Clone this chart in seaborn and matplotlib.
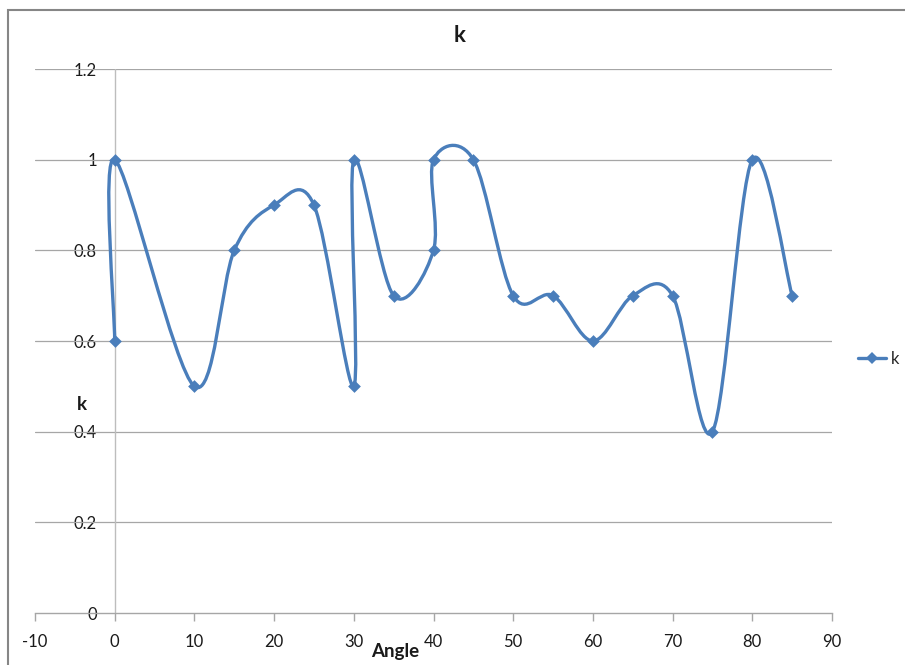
import numpy as np
import pandas as pd
import matplotlib
matplotlib.use("Agg")
import matplotlib.pyplot as plt
import seaborn as sns
from matplotlib.path import Path
from matplotlib.patches import PathPatch, Rectangle
from matplotlib.lines import Line2D

# ---- data ----
angle = [0, 0, 10, 15, 20, 25, 30, 30, 35, 40, 40, 45, 50, 55, 60, 65, 70, 75, 80, 85]
k_val = [0.6, 1.0, 0.5, 0.8, 0.9, 0.9, 0.5, 1.0, 0.7, 0.8, 1.0, 1.0, 0.7, 0.7, 0.6, 0.7, 0.7, 0.4, 1.0, 0.7]
x_ticks = [-10, 0, 10, 20, 30, 40, 50, 60, 70, 80, 90]
y_ticks = [0, 0.2, 0.4, 0.6, 0.8, 1.0, 1.2]
y_tick_labels = ["0", "0.2", "0.4", "0.6", "0.8", "1", "1.2"]
title = "k"
series_name = "k"
x_label = "Angle"
y_label = "k"

df = pd.DataFrame({"Angle": angle, "k": k_val})

sns.set_theme(style="white")
plt.rcParams["font.family"] = ["Lato", "DejaVu Sans"]

W, H = 905, 665
fig = plt.figure(figsize=(W / 100, H / 100), dpi=100)
fig.patch.set_facecolor("white")

# chart-area border
fig.add_artist(Rectangle((8 / W, -0.1), 1.2, 1.1 - 10 / H, transform=fig.transFigure,
                         fill=False, edgecolor="#868686", linewidth=1.5))

left, right, bottom, top = 35, 832, 613, 69
ax = fig.add_axes([left / W, 1 - bottom / H, (right - left) / W, (bottom - top) / H])
ax.set_xlim(-10, 90)
ax.set_ylim(0, 1.2)

color = "#4A7EBB"

# smoothed line (Excel-style Bezier through the points)
pts = np.column_stack([df["Angle"].to_numpy(float), df["k"].to_numpy(float)])
n = len(pts)
verts = [pts[0]]
codes = [Path.MOVETO]
for i in range(n - 1):
    p0 = pts[max(i - 1, 0)]
    p1 = pts[i]
    p2 = pts[i + 1]
    p3 = pts[min(i + 2, n - 1)]
    c1 = p1 + (p2 - p0) / 6.0
    c2 = p2 - (p3 - p1) / 6.0
    verts += [c1, c2, p2]
    codes += [Path.CURVE4] * 3
ax.add_patch(PathPatch(Path(verts, codes), facecolor="none", edgecolor=color,
                       linewidth=2.4, zorder=3, capstyle="round", joinstyle="round"))

sns.scatterplot(data=df, x="Angle", y="k", ax=ax, marker="D", s=42, color=color,
                edgecolor=color, linewidth=0, zorder=4, legend=False)

# grid / axes
for yv in y_ticks[1:]:
    ax.axhline(yv, color="#A6A6A6", linewidth=0.9, zorder=1)
ax.axvline(0, color="#BDBDBD", linewidth=1.0, zorder=1)
for s in ["top", "right", "left"]:
    ax.spines[s].set_visible(False)
ax.spines["bottom"].set_color("#A6A6A6")
ax.spines["bottom"].set_linewidth(1.0)

ax.set_xticks(x_ticks)
ax.set_xticklabels([str(t) for t in x_ticks])
ax.tick_params(axis="x", direction="out", length=6, width=1.0, color="#A6A6A6",
               bottom=True, labelsize=12, pad=9, labelcolor="#1a1a1a")
ax.set_yticks(y_ticks)
ax.set_yticklabels(y_tick_labels)
ax.tick_params(axis="y", length=0, pad=-(97 - left) * 0.72, labelsize=12, labelcolor="#1a1a1a")
for lab in ax.get_yticklabels():
    lab.set_horizontalalignment("right")

ax.set_xlabel("")
ax.set_ylabel("")
fig.text(395 / W, 1 - 652 / H, x_label, ha="center", va="center", fontsize=13.5,
         fontweight="bold", color="#1a1a1a")
fig.text(82 / W, 1 - 405 / H, y_label, ha="center", va="center", fontsize=13.5,
         fontweight="bold", color="#1a1a1a")
fig.text(460 / W, 1 - 36 / H, title, ha="center", va="center", fontsize=16,
         fontweight="bold", color="#1a1a1a")

handle = Line2D([], [], color=color, linewidth=2.4, marker="D", markersize=6.5,
                markeredgewidth=0)
fig.legend([handle], [series_name], loc="center left",
           bbox_to_anchor=(858 / W, 1 - 359 / H), bbox_transform=fig.transFigure,
           frameon=False, handlelength=1.7, handletextpad=0.3, borderpad=0,
           borderaxespad=0, fontsize=12)

fig.savefig("out.png", dpi=100)
